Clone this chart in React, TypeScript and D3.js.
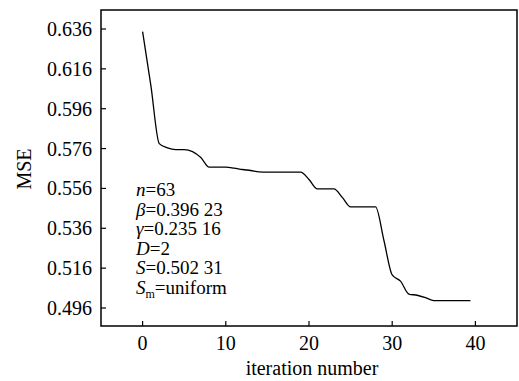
import React from "react";
import * as d3 from "d3";

const iterations = [0, 1, 2, 3, 4, 5, 6, 7, 8, 9, 10, 11, 12, 13, 14, 15, 16, 17, 18, 19, 20, 21, 22, 23, 24, 25, 26, 27, 28, 29, 30, 31, 32, 33, 34, 35, 36, 37, 38, 39.4];
const mse = [0.6347, 0.6075, 0.5785, 0.5763, 0.5755, 0.5755, 0.5745, 0.5715, 0.5667, 0.5667, 0.5667, 0.5662, 0.5655, 0.565, 0.5643, 0.5642, 0.5642, 0.5642, 0.5642, 0.5642, 0.5605, 0.5558, 0.5558, 0.5558, 0.5515, 0.5467, 0.5467, 0.5467, 0.5467, 0.53, 0.5126, 0.5095, 0.503, 0.5024, 0.5012, 0.4997, 0.4997, 0.4997, 0.4997, 0.4997];
const xTicks = [0, 10, 20, 30, 40];
const yTicks = [0.496, 0.516, 0.536, 0.556, 0.576, 0.596, 0.616, 0.636];
const xLabel = "iteration number";
const yLabel = "MSE";

const W = 519, H = 381;
const L = 101, R = 517, T = 10, B = 326;

export default function App() {
  const x = d3.scaleLinear().domain([-5, 45]).range([L, R]);
  const y = d3.scaleLinear().domain([0.496, 0.636]).range([308, 29]);
  const pts = iterations.map((it, i) => [it, mse[i]] as [number, number]);
  const line = d3.line<[number, number]>().x(d => x(d[0])).y(d => y(d[1])).curve(d3.curveMonotoneX);
  const font = "Liberation Serif, Tinos, Times New Roman, DejaVu Serif, serif";
  const ax = 136;
  const ab = 196;
  const ls = 19.6;
  return (
    <svg width={W} height={H} style={{ position: "absolute", left: 0, top: 0, background: "#fff", fontFamily: font }}>
      <rect x={0} y={0} width={W} height={H} fill="#fff" />
      <path d={line(pts) || ""} fill="none" stroke="#000" strokeWidth={1.3} />
      {xTicks.map(t => (
        <g key={"x" + t}>
          <line x1={x(t)} x2={x(t)} y1={B} y2={B - 5} stroke="#000" strokeWidth={1.2} />
          <text x={x(t)} y={350} textAnchor="middle" fontSize={20} style={{ fontFamily: font }}>{t}</text>
        </g>
      ))}
      {yTicks.map(t => (
        <g key={"y" + t}>
          <line x1={L} x2={L + 5} y1={y(t)} y2={y(t)} stroke="#000" strokeWidth={1.2} />
          <text x={92} y={y(t) + 7} textAnchor="end" fontSize={20} style={{ fontFamily: font }}>{t.toFixed(3)}</text>
        </g>
      ))}
      <rect x={L} y={T} width={R - L} height={B - T} fill="none" stroke="#000" strokeWidth={1.5} />
      <text x={312} y={375} textAnchor="middle" fontSize={20} style={{ fontFamily: font }}>{xLabel}</text>
      <text transform={`translate(31,169) rotate(-90)`} textAnchor="middle" fontSize={20} style={{ fontFamily: font }}>{yLabel}</text>
      <g fontSize={19} style={{ fontFamily: font }}>
        <text x={ax} y={ab}><tspan fontStyle="italic">n</tspan>=63</text>
        <text x={ax} y={ab + ls}><tspan fontStyle="italic">β</tspan>=0.396 23</text>
        <text x={ax} y={ab + 2 * ls}><tspan fontStyle="italic">γ</tspan>=0.235 16</text>
        <text x={ax} y={ab + 3 * ls}><tspan fontStyle="italic">D</tspan>=2</text>
        <text x={ax} y={ab + 4 * ls}><tspan fontStyle="italic">S</tspan>=0.502 31</text>
        <text x={ax} y={ab + 5 * ls}><tspan fontStyle="italic">S</tspan><tspan fontSize={12} dy={4}>m</tspan><tspan dy={-4}>=uniform</tspan></text>
      </g>
    </svg>
  );
}
